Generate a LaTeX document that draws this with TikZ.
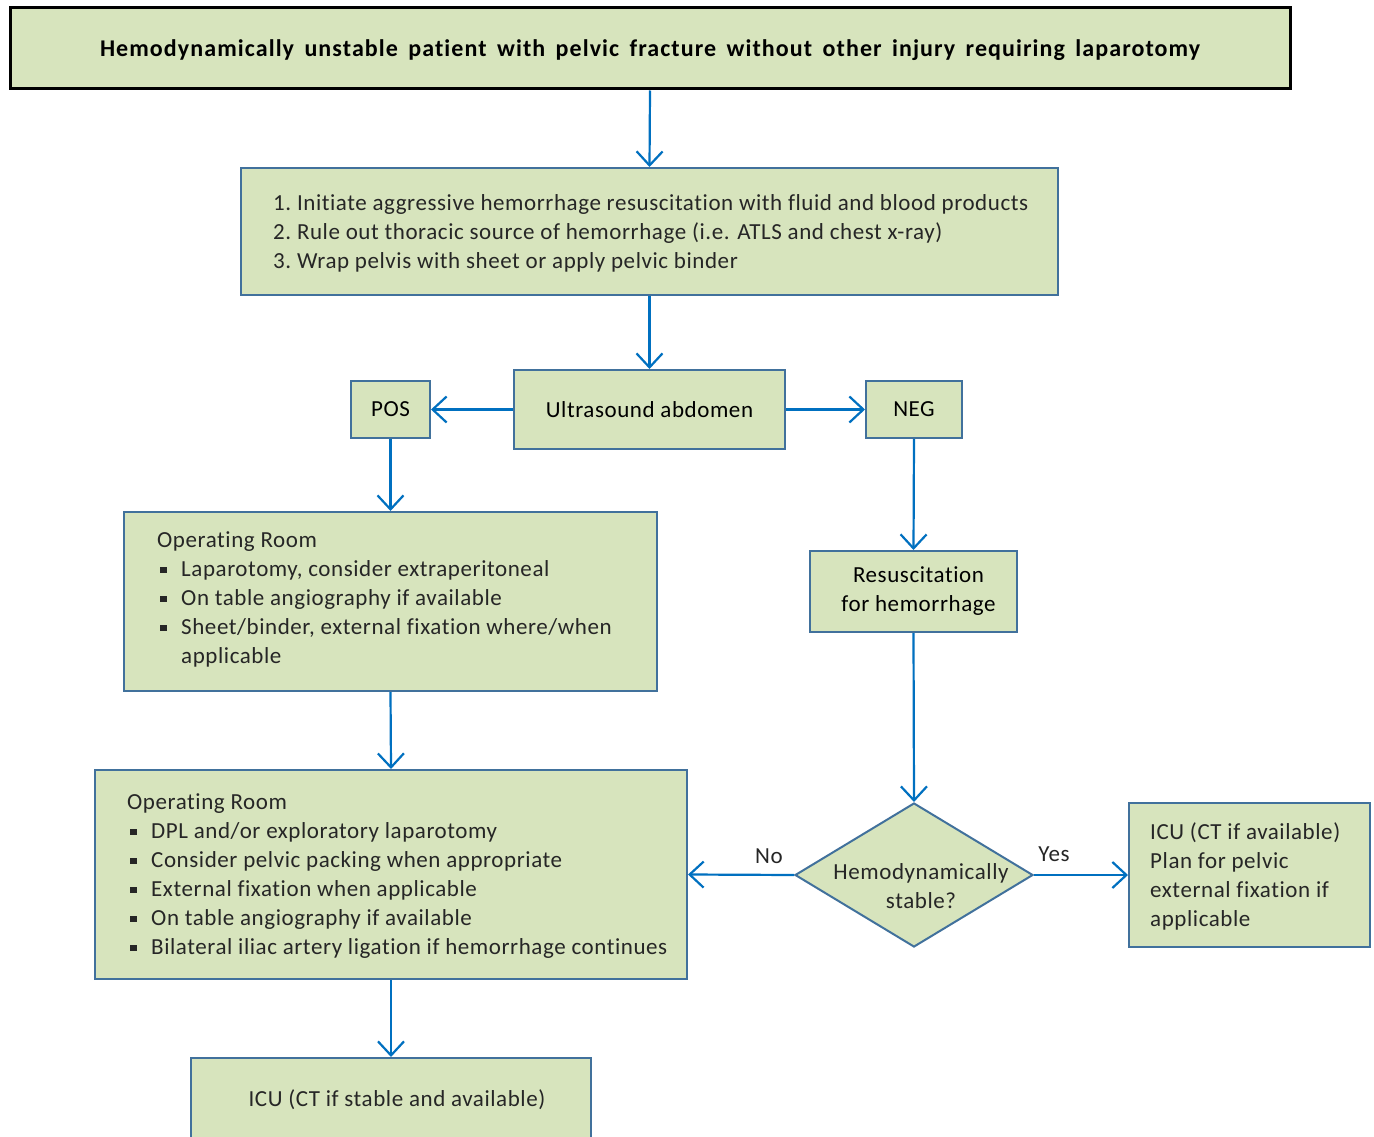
\documentclass[tikz,border=0pt]{standalone}
\usepackage{fontspec}
\setmainfont{Carlito}[LetterSpace=2.5,Ligatures=NoCommon]
\usetikzlibrary{arrows.meta,shapes.geometric}
\definecolor{boxfill}{HTML}{D7E4BD}
\definecolor{boxline}{HTML}{41719C}
\definecolor{arrowc}{HTML}{0070C0}
\newcommand{\fs}{\fontsize{23}{29}\selectfont}
\newcommand{\bsq}{\hspace*{3pt}\makebox[21pt][l]{\rule[3pt]{6.5pt}{6.5pt}}}
\newcommand{\bind}{\hspace*{24pt}}
\begin{document}
\begin{tikzpicture}[x=1pt,y=-1pt,
  box/.style={draw=boxline, line width=2pt, fill=boxfill, inner sep=0pt, rectangle},
  txt/.style={font=\fs, align=left, inner sep=0pt, text=black!85},
  ctxt/.style={font=\fs, align=center, inner sep=0pt, text=black!85},
  arr/.style={draw=arrowc, line width=2.2pt, -{Straight Barb[length=14pt,width=26pt,line width=2.2pt]}}]
\useasboundingbox (0,0) rectangle (1374,1137);
\fill[white] (0,0) rectangle (1374,1137);
% top box
\node[draw=black, line width=3pt, fill=boxfill, minimum width=1280pt, minimum height=81pt, inner sep=0pt, text height=18pt, text depth=1.6pt] (top) at (650,48.5)
  {\bfseries\fontsize{24}{26}\selectfont\addfontfeature{LetterSpace=4.5}\makebox[1100pt][s]{Hemodynamically unstable patient with pelvic fracture without other injury requiring laparotomy}};
% box 2
\node[box, minimum width=817pt, minimum height=127pt] (b2) at (649.5,231.5) {};
\node[txt, anchor=west] (b2t) at (273,233) {1.\ Initiate aggressive hemorrhage resuscitation with fluid and blood products\\2.\ Rule out thoracic source of hemorrhage (i.e. ATLS and chest x-ray)\\3.\ Wrap pelvis with sheet or apply pelvic binder};
% ultrasound row
\node[box, minimum width=271pt, minimum height=79pt, font=\fs] (us) at (649.5,409.5) {Ultrasound abdomen};
\node[box, minimum width=79pt, minimum height=57pt, font=\fs] (pos) at (390.5,409.5) {POS};
\node[box, minimum width=96pt, minimum height=57pt, font=\fs] (neg) at (914,409.5) {NEG};
% OR1
\node[box, minimum width=533pt, minimum height=179pt] (or1) at (390.5,601.5) {};
\node[txt, anchor=west] (or1t) at (157,599) {Operating Room\\
\bsq Laparotomy, consider extraperitoneal\\
\bsq On table angiography if available\\
\bsq Sheet/binder, external fixation where/when\\
\bind applicable};
% Resuscitation
\node[box, minimum width=207pt, minimum height=81pt, font=\fs, align=center] (res) at (913.5,591.5) {\hspace*{10pt}Resuscitation\\\hspace*{10pt}for hemorrhage};
% diamond
\node[draw=boxline, line width=2pt, fill=boxfill, diamond, minimum width=238pt, minimum height=144pt, inner sep=0pt, aspect=1.65] (dia) at (914,875) {};
\node[ctxt] (diat) at (921,886) {Hemodynamically\\stable?};
% OR2
\node[box, minimum width=592pt, minimum height=209pt] (or2) at (391,874.5) {};
\node[txt, anchor=west] (or2t) at (127,876) {Operating Room\\
\bsq DPL and/or exploratory laparotomy\\
\bsq Consider pelvic packing when appropriate\\
\bsq External fixation when applicable\\
\bsq On table angiography if available\\
\bsq Bilateral iliac artery ligation if hemorrhage continues};
% ICU right
\node[box, minimum width=241pt, minimum height=144pt] (icu2) at (1249.5,875) {};
\node[txt, anchor=west] (icu2t) at (1150,876) {ICU (CT if available)\\Plan for pelvic\\external fixation if\\applicable};
% ICU bottom
\node[box, minimum width=400pt, minimum height=84pt, font=\fs] (icu1) at (391,1100) {};
\node[ctxt] (icu1t) at (397,1100) {ICU (CT if stable and available)};
% labels
\node[ctxt] (no) at (769,856) {No};
\node[ctxt] (yes) at (1054,854) {Yes};
% arrows
\draw[arr] (top.south) -- (b2.north);
\draw[arr] (b2.south) -- (us.north);
\draw[arr] (us.west) -- (pos.east);
\draw[arr] (us.east) -- (neg.west);
\draw[arr] (pos.south) -- (or1.north);
\draw[arr] (neg.south) -- (res.north);
\draw[arr] (res.south) -- (dia.north);
\draw[arr] (dia.west) -- (or2.east);
\draw[arr] (dia.east) -- (icu2.west);
\draw[arr] (or1.south) -- (or2.north);
\draw[arr] (or2.south) -- (icu1.north);
\end{tikzpicture}
\end{document}
